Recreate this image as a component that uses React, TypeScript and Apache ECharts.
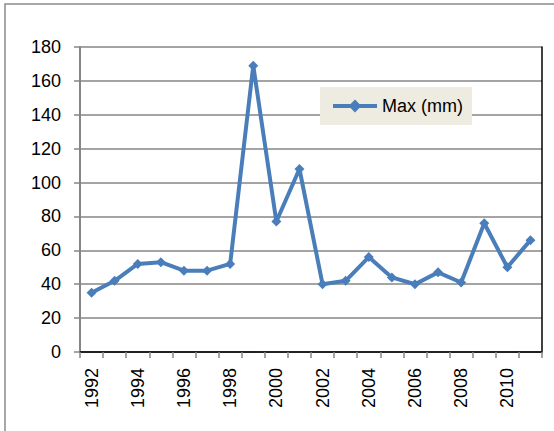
import React, { useEffect, useRef } from "react";
import * as echarts from "echarts";

const years = [
  "1992", "1993", "1994", "1995", "1996", "1997", "1998", "1999", "2000", "2001",
  "2002", "2003", "2004", "2005", "2006", "2007", "2008", "2009", "2010", "2011",
];
const maxMm = [35, 42, 52, 53, 48, 48, 52, 169, 77, 108, 40, 42, 56, 44, 40, 47, 41, 76, 50, 66];
const seriesName = "Max (mm)";

const FONT = "'Liberation Sans', Arial, sans-serif";
const GREY = "#868686";
const BLUE = "#4A7EBB";

export default function App() {
  const ref = useRef<HTMLDivElement>(null);
  useEffect(() => {
    if (!ref.current) return;
    const chart = echarts.init(ref.current, null, { renderer: "svg" });
    chart.setOption({
      animation: false,
      backgroundColor: "#ffffff",
      graphic: [
        {
          type: "rect",
          shape: { x: 5, y: 4, width: 600, height: 500 },
          style: { fill: "none", stroke: "#8a8a8a", lineWidth: 1.5 },
          z: 0,
        },
      ],
      grid: { left: 80, right: 12, top: 47, bottom: 79, containLabel: false },
      legend: {
        left: 320,
        top: 87,
        backgroundColor: "#EEECE1",
        padding: [10, 9, 10, 11],
        itemWidth: 44,
        itemHeight: 16,
        itemGap: 5,
        lineStyle: { width: 4, color: BLUE },
        itemStyle: { color: BLUE },
        textStyle: { fontFamily: FONT, fontSize: 18, color: "#000" },
        data: [seriesName],
      },
      xAxis: [
        {
          type: "category",
          data: years,
          boundaryGap: true,
          axisLine: { lineStyle: { color: GREY, width: 2 } },
          axisTick: { show: true, interval: 0, length: 6, lineStyle: { color: GREY, width: 1.5 } },
          axisLabel: {
            interval: 1,
            rotate: 90,
            margin: 16,
            fontFamily: FONT,
            fontSize: 18,
            color: "#000",
          },
          splitLine: { show: false },
        },
        {
          type: "category",
          data: years,
          position: "top",
          axisLine: { show: true, lineStyle: { color: "#000", width: 1.5 } },
          axisTick: { show: false },
          axisLabel: { show: false },
          splitLine: { show: false },
        },
      ],
      yAxis: [
        {
          type: "value",
          min: 0,
          max: 180,
          interval: 20,
          axisLine: { show: true, lineStyle: { color: GREY, width: 2 } },
          axisTick: { show: true, length: 6, lineStyle: { color: GREY, width: 1.5 } },
          axisLabel: { margin: 19, fontFamily: FONT, fontSize: 18, color: "#000" },
          splitLine: { show: true, lineStyle: { color: GREY, width: 1.5 } },
        },
        {
          type: "value",
          min: 0,
          max: 180,
          interval: 20,
          position: "right",
          axisLine: { show: true, lineStyle: { color: "#000", width: 1.5 } },
          axisTick: { show: false },
          axisLabel: { show: false },
          splitLine: { show: false },
        },
      ],
      series: [
        {
          name: seriesName,
          type: "line",
          data: maxMm,
          xAxisIndex: 0,
          yAxisIndex: 0,
          symbol: "diamond",
          symbolSize: 10,
          showAllSymbol: true,
          lineStyle: { color: BLUE, width: 4 },
          itemStyle: { color: BLUE },
          z: 5,
        },
      ],
    });
    return () => chart.dispose();
  }, []);
  return (
    <div
      ref={ref}
      style={{ position: "absolute", left: 0, top: 0, width: 554, height: 431 }}
    />
  );
}
